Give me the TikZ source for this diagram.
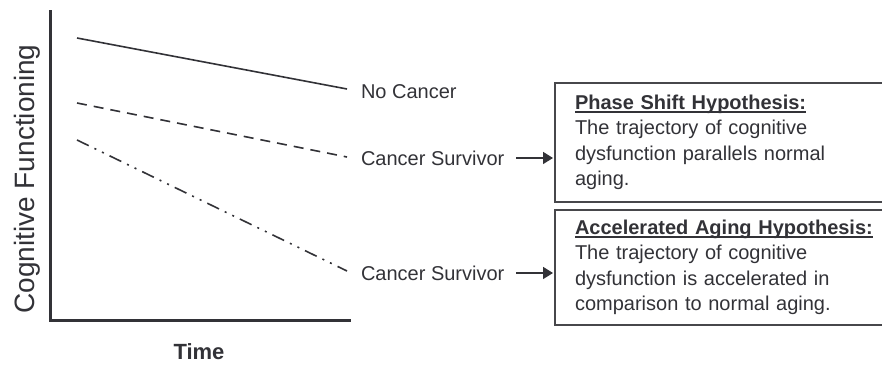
\documentclass[tikz,border=0pt]{standalone}
\usepackage{fontspec}
\setmainfont{Liberation Sans}
\usetikzlibrary{arrows.meta}
\definecolor{ink}{RGB}{50,50,55}
\newcommand{\hyphead}[1]{\setbox0=\hbox{\bfseries #1}\rlap{\rule[-1.7pt]{\wd0}{0.75pt}}\box0}

\begin{document}
\begin{tikzpicture}[x=0.5pt,y=-0.5pt,
  every node/.style={inner sep=0pt,outer sep=0pt,text=ink},
  axis/.style={ink,line width=1.5pt,line cap=rect},
  trend/.style={ink,line width=0.8pt},
  lbl/.style={anchor=west,font=\fontsize{10}{12}\selectfont},
  hyp/.style={draw=ink!90,line width=1.1pt,anchor=north west,inner xsep=10pt,
    text width=160pt,align=left,font=\fontsize{10}{12.75}\selectfont},
  pointer/.style={-{Triangle[length=5pt,width=6pt]},ink,line width=0.8pt}]
\useasboundingbox (0,0) rectangle (882,367);
\clip (0,0) rectangle (882,367);
% axes
\coordinate (ytop) at (50,12);
\coordinate (orig) at (50,321);
\coordinate (xend) at (349,321);
\draw [axis] (ytop) -- (orig) -- (xend);
\draw (27,179) node [rotate=90,font=\fontsize{14}{16}\selectfont] (ylab) {Cognitive Functioning};
\draw (199,352) node [font=\fontsize{11}{13}\selectfont\bfseries] (xlab) {Time};
% trajectories
\coordinate (nc0) at (77,38);
\coordinate (nc1) at (347,89);
\coordinate (sa0) at (77,103);
\coordinate (sa1) at (347,157);
\coordinate (sb0) at (77,140);
\coordinate (sb1) at (347,271);
\draw [trend] (nc0) -- (nc1);
\draw [trend,dash pattern=on 5pt off 3.5pt] (sa0) -- (sa1);
\draw [trend,dash pattern=on 6.5pt off 3.2pt on 1pt off 3.2pt on 1pt off 3.2pt] (sb0) -- (sb1);
\draw (361,92) node [lbl] (nocancer) {No Cancer};
\draw (361,158) node [lbl] (csa) {Cancer Survivor};
\draw (361,273) node [lbl] (csb) {Cancer Survivor};
% hypotheses
\draw (555,83) node [hyp,minimum height=59.5pt] (phase) {\hyphead{Phase Shift Hypothesis:}\\
  The trajectory of cognitive\\ dysfunction parallels normal\\ aging.};
\draw (555,210) node [hyp,minimum height=57.5pt] (accel) {\hyphead{Accelerated Aging Hypothesis:}\\
  The trajectory of cognitive\\ dysfunction is accelerated in\\ comparison to normal aging.};
\draw [pointer,shorten <=6pt,shorten >=1pt] (csa.east) -- (csa.east -| phase.west);
\draw [pointer,shorten <=6pt,shorten >=1pt] (csb.east) -- (csb.east -| accel.west);
\end{tikzpicture}
\end{document}
